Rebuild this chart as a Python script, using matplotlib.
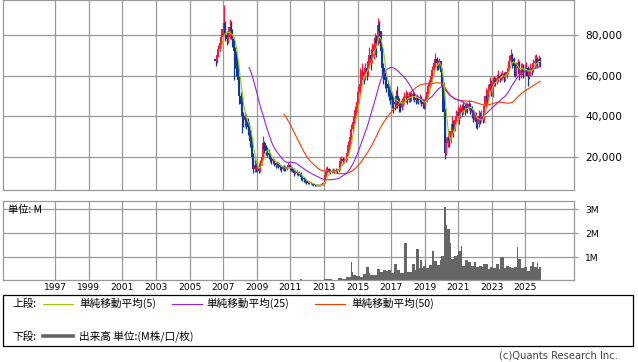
import matplotlib
matplotlib.use("Agg")
import matplotlib.pyplot as plt
import numpy as np
import pandas as pd
from matplotlib.lines import Line2D
from matplotlib.patches import Rectangle

plt.rcParams['font.family'] = ['DejaVu Sans', 'Noto Sans CJK JP']
CJK = ['Noto Sans CJK JP', 'DejaVu Sans']

# ---------------- data (monthly, Jul 2006 .. Nov 2025) ----------------
start_year, start_month = 2006, 7
first_open = 68000

close = [
    # 2006 Jul-Dec
    67000, 70000, 73000, 76000, 79000, 83000,
    # 2007
    86000, 80000, 78000, 79000, 84000, 82000, 78000, 72000, 70000, 66000, 58000, 50000,
    # 2008
    46000, 40000, 38000, 39000, 37000, 35000, 33000, 28000, 20000, 14000, 16000, 14000,
    # 2009
    15000, 13000, 17000, 20000, 27000, 24000, 23000, 22000, 21000, 19000, 18000, 18000,
    # 2010
    17000, 16000, 17000, 16000, 15000, 14000, 15000, 14500, 14000, 15000, 16000, 14500,
    # 2011
    14000, 13500, 12000, 12500, 12000, 11500, 12000, 10000, 9500, 9000, 8000, 7500,
    # 2012
    7000, 7500, 7000, 6500, 6200, 6000, 6200, 6000, 6000, 6200, 6500, 7000,
    # 2013
    11000, 12500, 14000, 13000, 12500, 13000, 13500, 13000, 13500, 13000, 14000, 18000,
    # 2014
    19000, 18000, 18500, 19000, 22000, 26000, 30000, 34000, 37000, 40000, 43000, 47000,
    # 2015
    52000, 56000, 60000, 62000, 60000, 64000, 62000, 66000, 70000, 68000, 72000, 75000,
    # 2016
    78000, 76000, 85000, 82000, 72000, 64000, 60000, 58000, 56000, 54000, 52000, 50000,
    # 2017
    48000, 47000, 46000, 50000, 48000, 45000, 44000, 47000, 48000, 49000, 50000, 48000,
    # 2018
    50000, 49000, 50000, 51000, 49000, 48000, 49000, 48000, 49000, 47000, 46000, 45000,
    # 2019
    48000, 52000, 55000, 58000, 60000, 63000, 66000, 68000, 66000, 65000, 67000, 62000,
    # 2020
    55000, 42000, 22000, 27000, 30000, 28000, 33000, 36000, 34000, 38000, 40000, 42000,
    # 2021
    40000, 44000, 42000, 45000, 43000, 45000, 44000, 46000, 44000, 42000, 40000, 41000,
    # 2022
    37000, 36000, 40000, 38000, 40000, 38000, 45000, 50000, 48000, 53000, 56000, 55000,
    # 2023
    57000, 58000, 57000, 59000, 60000, 59000, 60000, 61000, 59000, 60000, 62000, 64000,
    # 2024
    67000, 70000, 68000, 65000, 62000, 64000, 66000, 61000, 63000, 64000, 62000, 63000,
    # 2025 Jan-Nov
    64000, 60000, 62000, 64000, 63000, 66000, 67000, 68000, 66000, 68000, 66000,
]

high = [
    70000, 72000, 75000, 78000, 81000, 86000,
    95000, 87000, 82000, 84000, 88000, 87000, 83000, 79000, 74000, 72000, 67000, 60000,
    52000, 50000, 42000, 42000, 41000, 39000, 37000, 34000, 30000, 22000, 19000, 18000,
    17000, 16000, 18500, 23000, 30500, 28000, 26000, 25000, 24000, 22000, 20000, 19500,
    19000, 17500, 18000, 17500, 16500, 15500, 16000, 16000, 15500, 16000, 17500, 16500,
    15500, 15000, 14500, 13500, 13500, 12500, 13000, 12500, 10500, 10000, 9500, 8500,
    8000, 8000, 7800, 7200, 6800, 6500, 6600, 6500, 6400, 6600, 7000, 7800,
    13000, 15000, 15500, 14500, 14000, 14000, 14500, 14000, 14500, 14000, 15500, 20000,
    20500, 20000, 19500, 21000, 24000, 28000, 32000, 36000, 40000, 42000, 45000, 49000,
    55000, 64000, 63000, 66000, 64000, 66000, 67000, 70000, 74000, 73000, 76000, 79000,
    81000, 80000, 88500, 87000, 82000, 74000, 66000, 62000, 60000, 58000, 56000, 54000,
    52000, 50000, 49000, 53000, 55000, 49000, 47000, 49000, 50000, 52000, 53000, 52000,
    52000, 52000, 52000, 53000, 52000, 50000, 51000, 50000, 51000, 50000, 48500, 47500,
    50000, 54000, 57000, 60000, 62000, 65000, 68000, 71000, 69000, 67500, 68500, 67000,
    64000, 57000, 44000, 30000, 34000, 32000, 35000, 40000, 38000, 40000, 43000, 45000,
    44000, 46000, 46000, 47500, 46000, 47000, 46500, 48000, 46500, 45000, 43000, 43000,
    42000, 39000, 43000, 42000, 43000, 41000, 47000, 54000, 52000, 56000, 59500, 58000,
    59500, 60000, 59500, 61000, 62700, 61000, 62000, 63000, 62000, 62000, 64000, 67000,
    70000, 73000, 71000, 69000, 66000, 66500, 68000, 67000, 66000, 66000, 65500, 65500,
    66700, 65000, 64000, 66000, 66000, 68000, 70000, 70500, 69000, 70000, 69000,
]

low = [
    65000, 66000, 69000, 72000, 75000, 78000,
    80000, 77000, 75000, 76000, 78000, 78000, 74000, 58000, 64000, 60000, 55000, 46000,
    43000, 32000, 35000, 35000, 34000, 31000, 29000, 25000, 17000, 12000, 12500, 12500,
    12500, 12000, 12500, 16000, 19000, 22000, 21000, 20000, 19000, 17500, 16500, 16500,
    15500, 14500, 15000, 14500, 13500, 12500, 13500, 13000, 13000, 13500, 14500, 13500,
    13000, 12500, 10500, 11500, 11000, 10500, 11000, 8500, 8000, 7500, 7000, 6500,
    6500, 6600, 6600, 6000, 5800, 5600, 5800, 5700, 5700, 5800, 6000, 6300,
    7000, 10500, 12000, 12000, 11500, 12000, 12500, 12000, 12500, 12000, 12500, 13500,
    17000, 16500, 17000, 17500, 18500, 21000, 25000, 29000, 33000, 36000, 39000, 42000,
    46000, 50000, 55000, 58000, 56000, 58000, 58000, 60000, 64000, 63000, 66000, 68000,
    70000, 69000, 75000, 76000, 68000, 60000, 56000, 54000, 52000, 50000, 48000, 46000,
    44000, 41500, 43000, 44000, 44000, 42000, 42000, 43000, 45000, 46000, 47000, 46000,
    47000, 47000, 47500, 48000, 47000, 46000, 46500, 46000, 46500, 45000, 44000, 43500,
    44000, 47000, 51000, 54000, 56000, 58000, 61000, 64000, 63000, 63000, 64000, 58000,
    52000, 38000, 19000, 21000, 25000, 25000, 27000, 31000, 30000, 33000, 36000, 38000,
    36000, 39000, 40000, 41000, 40500, 42000, 41500, 43000, 41000, 39000, 37000, 38000,
    34500, 34000, 35000, 36000, 37000, 36500, 37000, 44000, 45000, 47000, 51000, 50000,
    49500, 55000, 55000, 56000, 57000, 57000, 58000, 58000, 57000, 57500, 59000, 61000,
    63000, 66000, 64000, 60000, 59500, 60000, 62000, 58000, 59000, 60500, 59000, 60000,
    61000, 55000, 58500, 60000, 60500, 62000, 64000, 65000, 64000, 65000, 64500,
]

# volume in millions
volume = [
    0.02, 0.02, 0.02, 0.02, 0.02, 0.02,
    0.03, 0.03, 0.02, 0.02, 0.02, 0.02, 0.02, 0.02, 0.02, 0.02, 0.02, 0.02,
    0.02, 0.02, 0.02, 0.02, 0.02, 0.02, 0.02, 0.02, 0.02, 0.02, 0.02, 0.02,
    0.07, 0.02, 0.02, 0.02, 0.02, 0.02, 0.02, 0.02, 0.02, 0.02, 0.02, 0.02,
    0.02, 0.02, 0.02, 0.02, 0.02, 0.02, 0.02, 0.02, 0.02, 0.02, 0.02, 0.02,
    0.02, 0.02, 0.02, 0.02, 0.02, 0.02, 0.07, 0.08, 0.07, 0.03, 0.03, 0.03,
    0.03, 0.03, 0.03, 0.03, 0.03, 0.03, 0.03, 0.03, 0.03, 0.03, 0.03, 0.03,
    0.09, 0.10, 0.10, 0.09, 0.09, 0.10, 0.05, 0.04, 0.05, 0.05, 0.14, 0.14,
    0.14, 0.10, 0.10, 0.10, 0.18, 0.18, 0.18, 0.80, 0.39, 0.25, 0.25, 0.22,
    0.22, 0.22, 0.19, 0.19, 0.30, 0.30, 0.60, 0.60, 0.33, 0.25, 0.25, 0.25,
    0.28, 0.28, 0.51, 0.51, 0.39, 0.39, 0.49, 0.49, 0.42, 0.42, 0.46, 0.46,
    0.35, 0.35, 0.72, 0.72, 0.49, 0.49, 0.35, 0.35, 0.35, 1.60, 1.60, 0.39,
    0.39, 0.39, 0.39, 0.72, 0.72, 0.46, 1.36, 1.36, 0.55, 0.90, 0.55, 0.62,
    0.89, 0.56, 0.56, 0.69, 0.69, 1.28, 1.28, 0.83, 0.83, 0.69, 0.69, 0.90,
    1.04, 1.04, 3.10, 2.36, 2.20, 2.20, 1.60, 0.93, 0.93, 1.04, 1.04, 1.11,
    1.25, 1.25, 1.46, 0.62, 0.62, 0.88, 0.88, 0.79, 0.79, 0.62, 0.62, 0.79,
    0.79, 0.60, 0.60, 0.65, 0.65, 0.58, 0.74, 0.74, 0.74, 0.51, 0.51, 0.60,
    0.60, 0.56, 0.56, 0.72, 0.72, 0.51, 1.00, 1.00, 1.00, 0.56, 0.62, 0.62,
    0.60, 0.60, 0.56, 0.56, 0.58, 0.58, 1.42, 0.93, 0.93, 0.56, 0.56, 0.60,
    0.60, 0.44, 0.44, 0.65, 0.65, 0.79, 0.60, 0.60, 0.76, 0.53, 0.60,
]

year_ticks = list(range(1997, 2026, 2))
price_ticks = [20000, 40000, 60000, 80000]
price_labels = ['20,000', '40,000', '60,000', '80,000']
vol_ticks = [1, 2, 3]
vol_labels = ['1M', '2M', '3M']

legend_top = '上段:'
legend_bottom = '下段:'
ma_labels = ['単純移動平均(5)', '単純移動平均(25)', '単純移動平均(50)']
vol_label = '出来高 単位:(M株/口/枚)'
unit_text = '単位: M'
credit = '(c)Quants Research Inc.'

# ---------------- derived ----------------
n = len(close)
t = np.array([start_year + (start_month - 1 + i + 0.5) / 12.0 for i in range(n)])
c = np.array(close, float)
o = np.concatenate([[first_open], c[:-1]])
h = np.array(high, float)
l = np.array(low, float)
v = np.array(volume, float)
s = pd.Series(c)
ma5 = s.rolling(5).mean().values
ma25 = s.rolling(25).mean().values
ma50 = s.rolling(50).mean().values

RED = '#ff1440'
BLUE = '#0a3a9c'
GRID = '#999999'
C5, C25, C50 = '#99cc00', '#9a1ff0', '#ff3a00'

W, H = 638, 362
fig = plt.figure(figsize=(W / 100, H / 100), dpi=100)

def fx(px):
    return px / W

def fy(py):
    return 1 - py / H

L, R = 3.3, 574.3
ax1 = fig.add_axes([fx(L), fy(190), fx(R - L), (190 - 0.3) / H])
ax2 = fig.add_axes([fx(L), fy(280), fx(R - L), (280 - 201) / H])

XL = (1993.903, 2027.91)
for ax in (ax1, ax2):
    ax.set_xlim(*XL)
    ax.set_xticks(year_ticks)
    ax.grid(True, color=GRID, lw=0.9)
    ax.set_axisbelow(True)
    for sp in ax.spines.values():
        sp.set_color(GRID)
        sp.set_linewidth(0.9)
    ax.yaxis.tick_right()
    ax.tick_params(axis='y', which='both', direction='out', length=3,
                   color=GRID, width=0.9, pad=5)
    ax.tick_params(axis='x', length=0)

# price panel
up = c >= o
cols = np.where(up, RED, BLUE)
ax1.vlines(t, l, h, colors=cols, lw=0.9, zorder=2)
ax1.bar(t, np.maximum(np.abs(c - o), 400), bottom=np.minimum(o, c), width=0.13,
        color=cols, linewidth=0, zorder=2)
ax1.plot(t, ma50, color=C50, lw=0.8, zorder=3)
ax1.plot(t, ma25, color=C25, lw=0.8, zorder=3)
ax1.plot(t, ma5, color=C5, lw=0.8, zorder=3)
ax1.set_ylim(3770, 97070)
ax1.set_yticks(price_ticks)
ax1.set_yticklabels(price_labels, fontsize=7.6)
ax1.set_xticklabels([])

# volume panel
ax2.bar(t, v, width=1 / 12.0, color='#666666', linewidth=0, antialiased=False,
        zorder=2)
ax2.set_ylim(0.054, 3.35)
ax2.set_yticks(vol_ticks)
ax2.set_yticklabels(vol_labels, fontsize=6.6)
ax2.set_xticklabels([str(y) for y in year_ticks], fontsize=6.6)
ax2.tick_params(axis='x', pad=2)
fig.text(fx(7.5), fy(210), unit_text, fontsize=7.4, family=CJK,
         ha='left', va='center')

# legend box
fig.patches.append(Rectangle((fx(3.3), fy(346.3)), fx(633 - 3.3), (346.3 - 295.3) / H,
                             transform=fig.transFigure, fill=False,
                             edgecolor='black', lw=0.9))
y1, y2 = 303.7, 336.3
fs = 7.7
fig.text(fx(12.5), fy(y1), legend_top, fontsize=fs, family=CJK, ha='left', va='center')
fig.text(fx(12.5), fy(y2), legend_bottom, fontsize=fs, family=CJK, ha='left', va='center')
segs = [(43.3, 73.3, 79, C5, ma_labels[0]),
        (171.7, 201.7, 206.7, C25, ma_labels[1]),
        (315, 345, 351, C50, ma_labels[2])]
for x0, x1, xt, col, lab in segs:
    fig.add_artist(Line2D([fx(x0), fx(x1)], [fy(y1), fy(y1)], color=col, lw=0.8,
                          transform=fig.transFigure))
    fig.text(fx(xt), fy(y1), lab, fontsize=fs, family=CJK, ha='left', va='center')
fig.add_artist(Line2D([fx(43.3), fx(73.3)], [fy(y2), fy(y2)], color='#666666', lw=2.6,
                      transform=fig.transFigure))
fig.text(fx(79), fy(y2), vol_label, fontsize=fs, family=CJK, ha='left', va='center')

fig.text(fx(618), fy(356), credit, fontsize=7.2, ha='right', va='center', color='#444444')

fig.savefig('out.png', dpi=100)
